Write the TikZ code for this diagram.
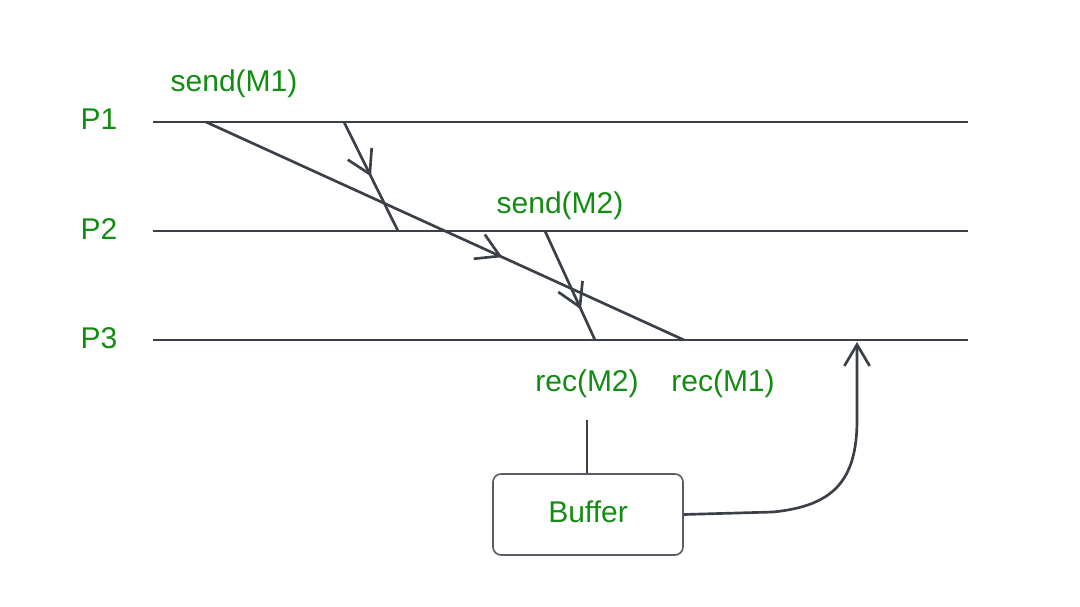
\documentclass[tikz,border=0pt]{standalone}
\usepackage{fontspec}
\setmainfont{Liberation Sans}
\usetikzlibrary{arrows.meta,decorations.markings}
\definecolor{msggreen}{RGB}{18,140,18}
\definecolor{linegray}{RGB}{59,63,71}
\tikzset{
  proc/.style={linegray,line width=2.2pt},
  msg/.style={linegray,line width=2pt,postaction={decorate},
    decoration={markings,mark=at position #1 with {\arrow{Straight Barb[length=17pt,width=20pt]}}}},
  lbl/.style={text=msggreen,font=\fontsize{22.5}{27}\selectfont,anchor=base,inner sep=0pt},
  bufbox/.style={draw=linegray!85,line width=1.2pt,rounded corners=6pt,minimum width=142.5pt,
    minimum height=60.75pt,inner sep=0pt,text depth=5pt,text=msggreen,font=\fontsize{22.5}{27}\selectfont},
}

\begin{document}
\begin{tikzpicture}[x=0.75pt,y=-0.75pt]
    \useasboundingbox (0,0) rectangle (1080,606);

    % Process lines
    \coordinate (p1s) at (153,122); \coordinate (p1e) at (968,122);
    \coordinate (p2s) at (153,231); \coordinate (p2e) at (968,231);
    \coordinate (p3s) at (153,340); \coordinate (p3e) at (968,340);
    \draw[proc] (p1s) -- (p1e);
    \draw[proc] (p2s) -- (p2e);
    \draw[proc] (p3s) -- (p3e);

    % Labels for processes and events
    \node[lbl] (l1) at (99,130) {P1};
    \node[lbl] (l2) at (99,239) {P2};
    \node[lbl] (l3) at (99,348) {P3};
    \node[lbl] (sm1) at (234,92) {send(M1)};
    \node[lbl] (sm2) at (560,213) {send(M2)};
    \node[lbl] (rm2) at (587,391) {rec(M2)};
    \node[lbl] (rm1) at (723,391) {rec(M1)};

    % Messages
    \coordinate (m1s) at (206,122); \coordinate (m1r) at (684,340);
    \coordinate (m0s) at (344,122); \coordinate (m0r) at (398,231);
    \coordinate (m2s) at (545,231); \coordinate (m2r) at (595,340);
    \draw[msg=0.5] (m0s) -- (m0r);
    \draw[msg=0.62] (m1s) -- (m1r);
    \draw[msg=0.72] (m2s) -- (m2r);

    % Buffer
    \node[bufbox] (buf) at (588,514.5) {Buffer};
    \coordinate (bt) at (587,420);
    \coordinate (rb) at (857,342);
    \draw[linegray,line width=0.8pt] (bt) -- (bt |- buf.north);
    \draw[linegray,line width=2pt,-{Straight Barb[length=16pt,width=19pt]}]
        (buf.east) -- (773,512) .. controls (832,506) and (857,482) .. (857,420) -- (rb);
\end{tikzpicture}
\end{document}
